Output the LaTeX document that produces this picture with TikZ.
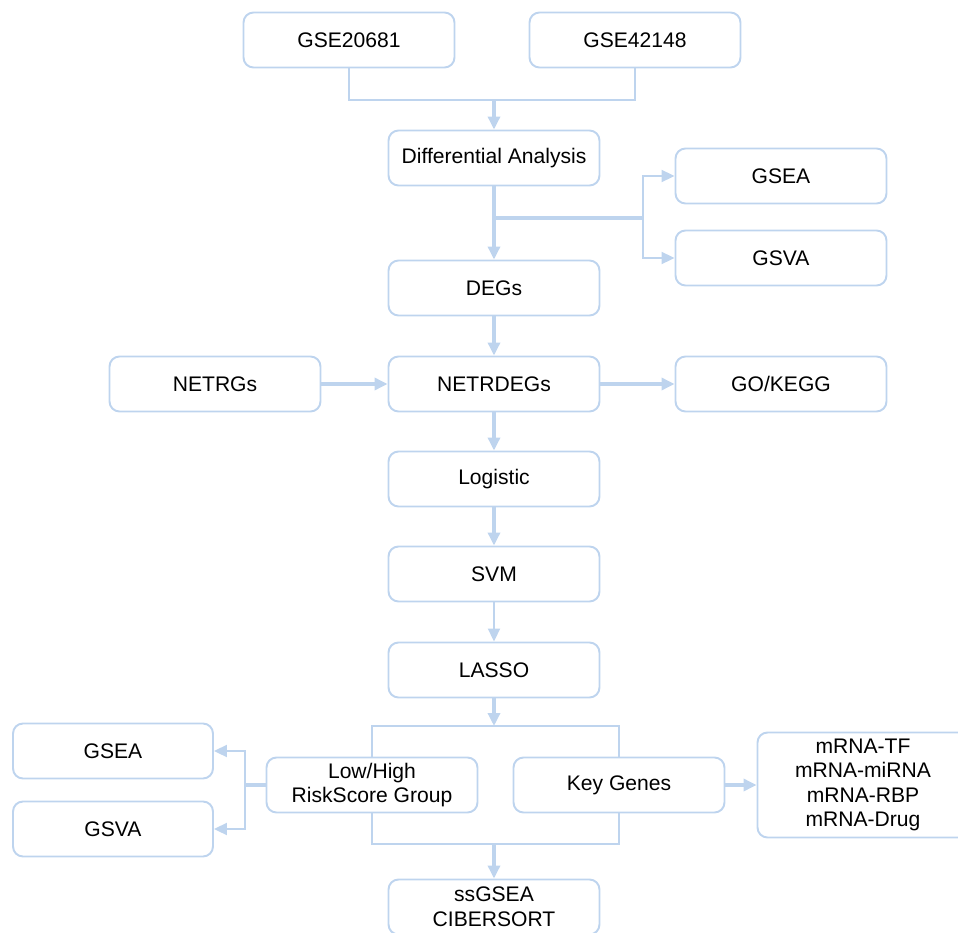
\documentclass[tikz,border=0pt]{standalone}
\usepackage{fontspec}
\setmainfont{Liberation Sans}
\usetikzlibrary{arrows.meta}
\definecolor{lineblue}{RGB}{190,212,238}

\begin{document}
\begin{tikzpicture}[x=0.02cm, y=-0.02cm,
        box/.style={draw=lineblue, line width=1.1pt, rounded corners=0.2cm,
            minimum width=4.22cm, minimum height=1.1cm, inner sep=0pt,
            align=center, font=\fontsize{12}{14}\selectfont},
        thin line/.style={draw=lineblue, line width=1.1pt},
        thick line/.style={draw=lineblue, line width=2.2pt},
        tip/.style={-{Triangle[length=0.26cm, width=0.24cm]}}]
        \useasboundingbox (0, 0) rectangle (958, 933);

        % data sets
        \node[box] (g1) at (349, 40) {GSE20681};
        \node[box] (g2) at (635, 40) {GSE42148};

        % main column
        \node[box] (diff) at (494, 158) {Differential Analysis};
        \node[box] (degs) at (494, 288) {DEGs};
        \node[box] (netrdegs) at (494, 384) {NETRDEGs};
        \node[box] (logistic) at (494, 479) {Logistic};
        \node[box] (svm) at (494, 574) {SVM};
        \node[box] (lasso) at (494, 670) {LASSO};
        \node[box] (ss) at (494, 907) {ssGSEA\\CIBERSORT};

        % side boxes
        \node[box] (gsea1) at (781, 176) {GSEA};
        \node[box] (gsva1) at (781, 258) {GSVA};
        \node[box] (netrgs) at (215, 384) {NETRGs};
        \node[box] (gokegg) at (781, 384) {GO/KEGG};
        \node[box] (risk) at (372, 785) {Low/High\\RiskScore Group};
        \node[box] (key) at (619, 785) {Key Genes};
        \node[box, minimum width=4.0cm] (gsea2) at (113, 751) {GSEA};
        \node[box, minimum width=4.0cm] (gsva2) at (113, 829) {GSVA};
        \node[box, minimum height=2.1cm] (mrna) at (863, 785)
            {mRNA-TF\\mRNA-miRNA\\mRNA-RBP\\mRNA-Drug};

        \coordinate (top) at (494, 100);
        \coordinate (fork) at (643, 218);
        \coordinate (split) at (diff.south |- fork);
        \coordinate (bt) at (494, 726);
        \coordinate (bb) at (494, 844);
        \coordinate (lf) at (245, 785);

        \draw[thin line] (g1.south) |- (top) -| (g2.south);
        \draw[thick line, tip] (top) -- (diff.north);
        \draw[thick line, tip] (diff.south) -- (degs.north);
        \draw[thick line] (split) -- (fork);
        \draw[thin line, tip] (fork) |- (gsea1.west);
        \draw[thin line, tip] (fork) |- (gsva1.west);

        \draw[thick line, tip] (degs.south) -- (netrdegs.north);
        \draw[thick line, tip] (netrgs.east) -- (netrdegs.west);
        \draw[thick line, tip] (netrdegs.east) -- (gokegg.west);
        \draw[thick line, tip] (netrdegs.south) -- (logistic.north);
        \draw[thick line, tip] (logistic.south) -- (svm.north);
        \draw[thin line, tip] (svm.south) -- (lasso.north);

        \draw[thick line, tip] (lasso.south) -- (bt);
        \draw[thin line] (risk.north) |- (bt) -| (key.north);
        \draw[thin line] (risk.south) |- (bb) -| (key.south);
        \draw[thick line, tip] (bb) -- (ss.north);

        \draw[thick line] (risk.west) -- (lf);
        \draw[thin line, tip] (lf) |- (gsea2.east);
        \draw[thin line, tip] (lf) |- (gsva2.east);
        \draw[thick line, tip] (key.east) -- (mrna.west);
\end{tikzpicture}
\end{document}
